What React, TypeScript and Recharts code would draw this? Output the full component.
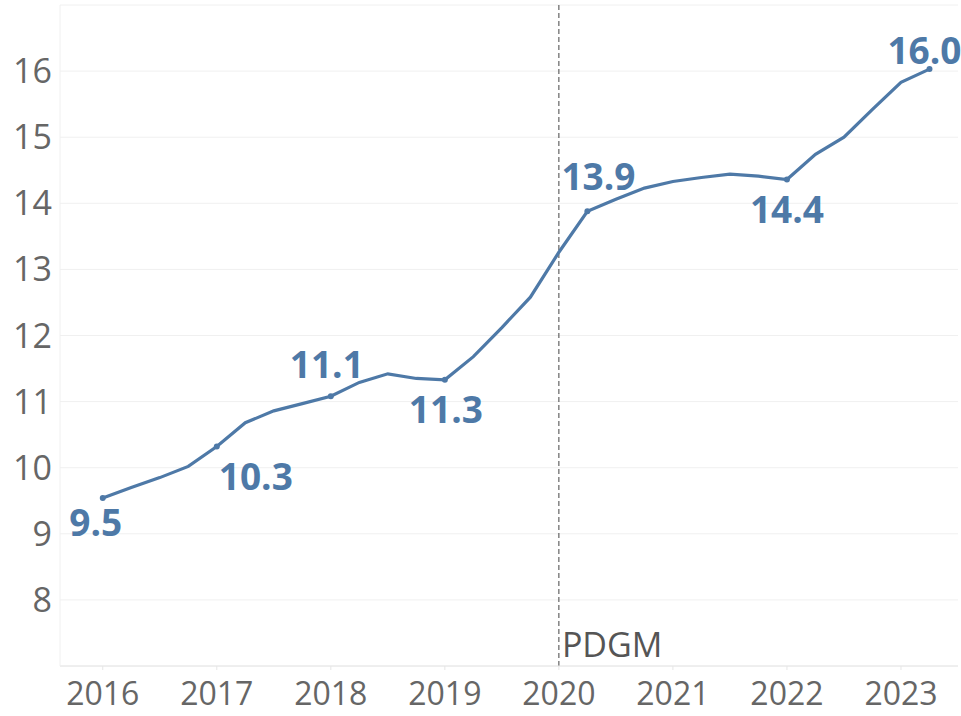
import React from "react";
import {
  LineChart,
  Line,
  XAxis,
  YAxis,
  CartesianGrid,
  ReferenceLine,
  LabelList,
} from "recharts";

// quarterly values, 2016 Q1 .. 2023 Q2
const quarters = [
  "2016 Q1", "2016 Q2", "2016 Q3", "2016 Q4",
  "2017 Q1", "2017 Q2", "2017 Q3", "2017 Q4",
  "2018 Q1", "2018 Q2", "2018 Q3", "2018 Q4",
  "2019 Q1", "2019 Q2", "2019 Q3", "2019 Q4",
  "2020 Q1", "2020 Q2", "2020 Q3", "2020 Q4",
  "2021 Q1", "2021 Q2", "2021 Q3", "2021 Q4",
  "2022 Q1", "2022 Q2", "2022 Q3", "2022 Q4",
  "2023 Q1", "2023 Q2",
];
const values = [
  9.54, 9.7, 9.85, 10.02,
  10.32, 10.68, 10.86, 10.97,
  11.08, 11.29, 11.42, 11.35,
  11.33, 11.68, 12.12, 12.58,
  13.26, 13.88, 14.06, 14.23,
  14.33, 14.39, 14.44, 14.41,
  14.36, 14.74, 15.0, 15.42,
  15.83, 16.03,
];
const labeledQuarters = ["2016 Q1", "2017 Q1", "2018 Q1", "2019 Q1", "2020 Q2", "2022 Q1", "2023 Q2"];
const yearTicks = [2016, 2017, 2018, 2019, 2020, 2021, 2022, 2023];
const yTicks = [7, 8, 9, 10, 11, 12, 13, 14, 15, 16, 17];
const pdgmYear = 2020;

// label offsets (text centre relative to the point)
const labelOffsets: Record<string, [number, number]> = {
  "2016 Q1": [-7, 25],
  "2017 Q1": [39, 30],
  "2018 Q1": [-4, -31],
  "2019 Q1": [1, 30],
  "2020 Q2": [11, -34],
  "2022 Q1": [0, 30],
  "2023 Q2": [-5, -18],
};

const BLUE = "#4e79a7";
const FONT = "'Open Sans', sans-serif";

const data = quarters.map((q, i) => {
  const [yr, qq] = q.split(" Q");
  return {
    quarter: q,
    t: Number(yr) + (Number(qq) - 1) / 4,
    value: values[i],
    labeled: labeledQuarters.includes(q),
  };
});

const renderDot = (props: any) => {
  const { cx, cy, payload, index } = props;
  if (!payload.labeled) return <g key={index} />;
  return <circle key={index} cx={cx} cy={cy} r={3} fill={BLUE} />;
};

const renderLabel = (props: any) => {
  const { x, y, value, index } = props;
  const q = quarters[index];
  const off = labelOffsets[q];
  if (!off) return null;
  return (
    <text
      x={x + off[0]}
      y={y + off[1] + 13}
      textAnchor="middle"
      fill={BLUE}
      fontSize={37}
      fontWeight={700}
      fontFamily={FONT}
    >
      {Number(value).toFixed(1)}
    </text>
  );
};

const PdgmLabel = (props: any) => {
  const { viewBox } = props;
  return (
    <text x={viewBox.x + 3} y={viewBox.y + viewBox.height - 9} fill="#555" fontSize={34} fontFamily={FONT}>
      PDGM
    </text>
  );
};

export default function App() {
  return (
    <div style={{ position: "absolute", left: 0, top: 0, background: "#fff" }}>
      <LineChart width={961} height={716} data={data} margin={{ top: 5, right: 3, left: 0, bottom: 0 }}>
        <CartesianGrid horizontal vertical={false} stroke="#f0f0f0" />
        <XAxis
          dataKey="t"
          type="number"
          domain={[2015.625, 2023.5]}
          ticks={yearTicks}
          height={50}
          stroke="#e6e6e6"
          tickSize={4}
          tickMargin={12}
          tick={{ fill: "#666", fontSize: 32, fontFamily: FONT }}
        />
        <YAxis
          type="number"
          domain={[7, 17]}
          ticks={yTicks}
          width={60}
          stroke="#f0f0f0"
          tickLine={false}
          tickFormatter={(v: number) => (v === 7 || v === 17 ? "" : String(v))}
          tick={{ fill: "#666", fontSize: 34, fontFamily: FONT }}
        />
        <ReferenceLine x={pdgmYear} stroke="#444" strokeDasharray="5 3" label={<PdgmLabel />} />
        <Line
          type="linear"
          dataKey="value"
          stroke={BLUE}
          strokeWidth={3.2}
          dot={renderDot}
          activeDot={false}
          isAnimationActive={false}
        >
          <LabelList dataKey="value" content={renderLabel} />
        </Line>
      </LineChart>
    </div>
  );
}
